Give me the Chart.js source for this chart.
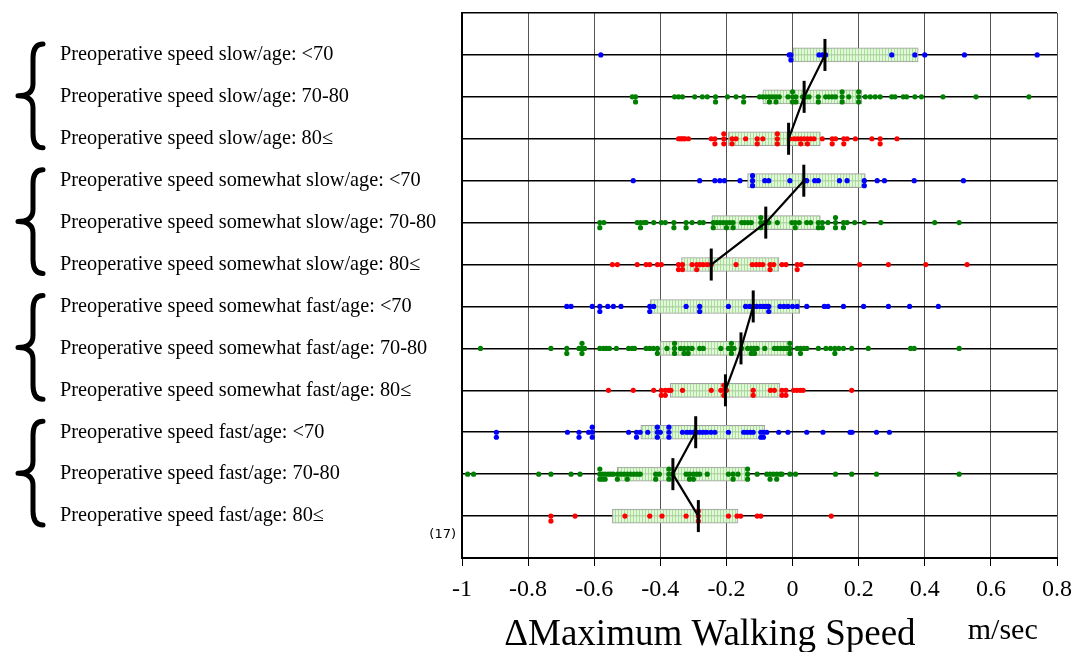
<!DOCTYPE html>
<html>
<head>
<meta charset="utf-8">
<script src="https://cdn.jsdelivr.net/npm/chart.js@4/dist/chart.umd.min.js"></script>
<style>
  body { margin: 0; background: #fff; }
  #wrap { position: relative; width: 1073px; height: 652px; }
</style>
</head>
<body>
<div id="wrap"><canvas id="walking"></canvas></div>
<script>
const rowLabels = [
  'Preoperative speed slow/age: <70',
  'Preoperative speed slow/age: 70-80',
  'Preoperative speed slow/age: 80≤',
  'Preoperative speed somewhat slow/age: <70',
  'Preoperative speed somewhat slow/age: 70-80',
  'Preoperative speed somewhat slow/age: 80≤',
  'Preoperative speed somewhat fast/age: <70',
  'Preoperative speed somewhat fast/age: 70-80',
  'Preoperative speed somewhat fast/age: 80≤',
  'Preoperative speed fast/age: <70',
  'Preoperative speed fast/age: 70-80',
  'Preoperative speed fast/age: 80≤'
];

// individual patients, change in max walking speed (m/sec); repeated values are stacked
const slowU70 = [-0.58, -0.01, -0.005, -0.005, 0.08, 0.09, 0.10, 0.30, 0.37, 0.40, 0.52, 0.74];
const slow7080 = [-0.485, -0.475, -0.475, -0.357, -0.345, -0.333, -0.296, -0.273, -0.258, -0.233, -0.233, -0.197, -0.171, -0.148, -0.148,
  -0.1, -0.09, -0.08, -0.07, -0.06, -0.05, -0.04, -0.05, -0.07, -0.014, 0, 0, 0, 0.01, 0.01, 0.03, 0.04, 0.05, 0.078, 0.078,
  0.1, 0.11, 0.12, 0.13, 0.15, 0.15, 0.15, 0.17, 0.2, 0.2, 0.2, 0.22, 0.235, 0.25, 0.265, 0.3, 0.31, 0.335, 0.345, 0.37, 0.39, 0.455, 0.555, 0.715];
const slowO80 = [-0.345, -0.335, -0.325, -0.315, -0.34, -0.33, -0.246, -0.235, -0.235, -0.208, -0.208, -0.208, -0.183, -0.171, -0.183,
  -0.142, -0.107, -0.107, -0.09, -0.046, -0.046, -0.046, -0.008, 0.005, 0.015, 0.025, 0.035, 0.045, 0.055, 0.065, 0.025, 0.045,
  0.09, 0.12, 0.13, 0.12, 0.155, 0.165, 0.155, 0.19, 0.24, 0.265, 0.265, 0.316];
const swSlowU70 = [-0.482, -0.281, -0.235, -0.22, -0.206, -0.159, -0.121, -0.121, -0.121, -0.084, -0.072, -0.008, 0.038, 0.043, 0.067, 0.078,
  0.142, 0.165, 0.217, 0.217, 0.256, 0.278, 0.368, 0.517];
const swSlow7080 = [-0.583, -0.571, -0.583, -0.47, -0.46, -0.45, -0.443, -0.46, -0.42, -0.397, -0.385, -0.359, -0.359, -0.322, -0.304, -0.322,
  -0.281, -0.27, -0.24, -0.23, -0.22, -0.21, -0.2, -0.19, -0.18, -0.24, -0.2, -0.18, -0.154, -0.145, -0.135, -0.125, -0.096, -0.096, -0.096,
  -0.084, -0.072, -0.046, -0.002, 0.008, 0.02, 0.008, 0.043, 0.055, 0.078, 0.078, 0.09, 0.09, 0.107, 0.13, 0.13, 0.13, 0.154, 0.154,
  0.165, 0.188, 0.217, 0.267, 0.43, 0.504];
const swSlowO80 = [-0.545, -0.53, -0.47, -0.443, -0.432, -0.409, -0.397, -0.345, -0.333, -0.345, -0.333, -0.304, -0.29, -0.28, -0.27, -0.258,
  -0.29, -0.246, -0.171, -0.122, -0.11, -0.1, -0.09, -0.068, -0.057, -0.068, -0.032, -0.02, 0.014, 0.026, 0.014, 0.203, 0.29, 0.403, 0.528];
const swFastU70 = [-0.683, -0.67, -0.606, -0.583, -0.583, -0.559, -0.542, -0.519, -0.432, -0.42, -0.432, -0.322, -0.281, -0.281, -0.194,
  -0.142, -0.13, -0.119, -0.108, -0.097, -0.087, -0.078, -0.072, -0.072, -0.038, -0.026, -0.014, 0, 0.014, 0.043, 0.096, 0.107, 0.154,
  0.215, 0.29, 0.354, 0.441];
const swFast7080 = [-0.944, -0.731, -0.683, -0.683, -0.646, -0.629, -0.637, -0.637, -0.637, -0.583, -0.572, -0.563, -0.554, -0.533, -0.496,
  -0.485, -0.478, -0.443, -0.432, -0.421, -0.409, -0.409, -0.38, -0.357, -0.357, -0.357, -0.339, -0.328, -0.316, -0.304, -0.328, -0.316,
  -0.281, -0.27, -0.217, -0.194, -0.185, -0.177, -0.185, -0.185, -0.154, -0.136, -0.125, -0.115, -0.107, -0.125, -0.115, -0.084, -0.055,
  -0.045, -0.035, -0.025, -0.015, -0.008, -0.008, -0.008, 0.014, 0.024, 0.034, 0.043, 0.024, 0.078, 0.101, 0.115, 0.128, 0.14, 0.154,
  0.128, 0.179, 0.229, 0.357, 0.368, 0.504];
const swFastO80 = [-0.557, -0.482, -0.42, -0.397, -0.385, -0.375, -0.368, -0.397, -0.385, -0.333, -0.246, -0.217, -0.208, -0.2, -0.208, -0.208,
  -0.119, -0.119, -0.067, -0.055, -0.032, -0.02, -0.032, -0.02, 0.003, 0.013, 0.023, 0.032, 0.179];
const fastU70 = [-0.896, -0.896, -0.681, -0.646, -0.646, -0.617, -0.606, -0.606, -0.606, -0.496, -0.472, -0.461, -0.472, -0.438, -0.409,
  -0.409, -0.409, -0.4, -0.374, -0.374, -0.374, -0.333, -0.32, -0.31, -0.3, -0.29, -0.28, -0.27, -0.26, -0.247, -0.235, -0.194, -0.148,
  -0.138, -0.128, -0.119, -0.096, -0.088, -0.078, -0.096, -0.088, -0.042, -0.014, 0.043, 0.092, 0.174, 0.18, 0.254, 0.293];
const fast7080 = [-0.983, -0.965, -0.768, -0.731, -0.67, -0.643, -0.583, -0.575, -0.567, -0.558, -0.55, -0.542, -0.583, -0.575, -0.567,
  -0.583, -0.53, -0.52, -0.51, -0.5, -0.49, -0.48, -0.47, -0.461, -0.53, -0.5, -0.414, -0.403, -0.414, -0.374, -0.374, -0.374, -0.362,
  -0.322, -0.312, -0.3, -0.29, -0.281, -0.312, -0.3, -0.258, -0.194, -0.18, -0.165, -0.18, -0.136, -0.136, -0.136, -0.107, -0.078,
  -0.068, -0.058, -0.048, -0.038, -0.068, -0.048, -0.032, -0.008, 0.009, 0.13, 0.179, 0.254, 0.504];
const fastO80 = [-0.731, -0.731, -0.658, -0.507, -0.432, -0.395, -0.322, -0.285, -0.285, -0.285, -0.194, -0.168, -0.157, -0.107, -0.096, 0.117];

// interquartile boxes and medians, one per row
const q1 = [0.0, -0.09, -0.194, -0.136, -0.244, -0.336, -0.43, -0.4, -0.37, -0.459, -0.53, -0.545];
const q3 = [0.38, 0.209, 0.084, 0.22, 0.084, -0.041, 0.022, -0.006, -0.038, -0.084, -0.134, -0.165];
const medians = [0.098, 0.035, -0.012, 0.034, -0.081, -0.246, -0.119, -0.156, -0.203, -0.293, -0.362, -0.285];

const rowValues = [slowU70, slow7080, slowO80, swSlowU70, swSlow7080, swSlowO80,
  swFastU70, swFast7080, swFastO80, fastU70, fast7080, fastO80];
const ageColors = ['#0000ff', '#008000', '#ff0000'];
const serif = '"Liberation Serif", "Times New Roman", serif';

function dotRow(values, row) {
  const seen = {};
  const offs = [0, 0.12, -0.12, 0.24, -0.24];
  return values.map(v => {
    const key = v.toFixed(3);
    const n = seen[key] = (seen[key] || 0) + 1;
    return { x: v, y: row + offs[(n - 1) % offs.length] };
  });
}

// light green hatched fill for the boxes
const pc = document.createElement('canvas');
pc.width = 3; pc.height = 4;
const pctx = pc.getContext('2d');
pctx.fillStyle = 'rgba(224,247,216,0.85)';
pctx.fillRect(0, 0, 3, 4);
pctx.fillStyle = 'rgba(150,222,130,0.8)';
pctx.fillRect(0, 0, 1, 4);
const hatch = pctx.createPattern(pc, 'repeat');

const datasets = [];
datasets.push({
  type: 'bar',
  indexAxis: 'y',
  data: rowLabels.map((_, i) => ({ x: [q1[i], q3[i]], y: i + 1 })),
  backgroundColor: hatch,
  borderColor: '#a0a0a0',
  borderWidth: 1,
  borderSkipped: false,
  barThickness: 14,
  order: 3
});
rowValues.forEach((vals, i) => {
  datasets.push({
    type: 'scatter',
    data: dotRow(vals, i + 1),
    backgroundColor: ageColors[i % 3],
    pointRadius: 2.6,
    pointBorderWidth: 0,
    order: 2
  });
});
for (let g = 0; g < 4; g++) {
  datasets.push({
    type: 'line',
    data: [0, 1, 2].map(j => ({ x: medians[g * 3 + j], y: g * 3 + j + 1 })),
    borderColor: '#000',
    borderWidth: 2.2,
    showLine: true,
    pointStyle: 'line',
    pointRotation: 90,
    pointRadius: 16,
    pointBorderWidth: 3,
    pointBorderColor: '#000',
    order: 1
  });
}

const decorPlugin = {
  id: 'decor',
  afterDraw(chart) {
    const { ctx, scales: { x, y }, chartArea } = chart;
    ctx.save();
    // braces for each preoperative speed group
    ctx.strokeStyle = '#000';
    ctx.lineWidth = 5;
    ctx.lineCap = 'round';
    ctx.lineJoin = 'round';
    for (let g = 0; g < 4; g++) {
      const top = y.getPixelForValue(g * 3 + 1) - 11;
      const bot = y.getPixelForValue(g * 3 + 3) + 9;
      const mid = (top + bot) / 2;
      const xs = 33, xt = 18, xe = 43;
      ctx.beginPath();
      ctx.moveTo(xe, top);
      ctx.quadraticCurveTo(xs, top, xs, top + 14);
      ctx.lineTo(xs, mid - 12);
      ctx.quadraticCurveTo(xs, mid, xt, mid);
      ctx.quadraticCurveTo(xs, mid, xs, mid + 12);
      ctx.lineTo(xs, bot - 14);
      ctx.quadraticCurveTo(xs, bot, xe, bot);
      ctx.stroke();
    }
    ctx.fillStyle = '#000';
    ctx.font = '13px "DejaVu Sans", sans-serif';
    ctx.textAlign = 'right';
    ctx.textBaseline = 'middle';
    ctx.fillText('(17)', chartArea.left - 6, y.getPixelForValue(12.45));

    ctx.textBaseline = 'alphabetic';
    ctx.textAlign = 'center';
    ctx.font = '37px ' + serif;
    ctx.fillText('\u0394Maximum Walking Speed', x.getPixelForValue(-0.25), 645);
    ctx.textAlign = 'left';
    ctx.font = '30px ' + serif;
    ctx.fillText('m/sec', x.getPixelForValue(0.53), 639);
    ctx.restore();
  }
};

new Chart('walking', {
  type: 'scatter',
  data: { datasets },
  options: {
    responsive: true,
    maintainAspectRatio: false,
    animation: false,
    layout: { autoPadding: false, padding: { left: 60, top: 13, right: 16, bottom: 0 } },
    plugins: { legend: { display: false }, tooltip: { enabled: false } },
    scales: {
      x: {
        type: 'linear',
        min: -1,
        max: 0.8,
        offset: false,
        ticks: {
          stepSize: 0.2,
          color: '#000',
          font: { family: serif, size: 24 },
          padding: 9,
          callback: v => String(Math.round(v * 10) / 10)
        },
        grid: { offset: false, color: '#555', lineWidth: 1, tickLength: 8, tickColor: '#000' },
        border: { color: '#000', width: 2 },
        afterFit: s => { s.height = 94; s.paddingLeft = 0; s.paddingRight = 0; }
      },
      y: {
        type: 'linear',
        min: 0,
        max: 13,
        reverse: true,
        offset: false,
        afterBuildTicks: s => { s.ticks = Array.from({ length: 14 }, (_, i) => ({ value: i })); },
        ticks: {
          autoSkip: false,
          crossAlign: 'far',
          color: '#000',
          font: { family: serif, size: 20.3 },
          padding: 0,
          callback: v => rowLabels[v - 1] || ''
        },
        grid: { offset: false, color: '#000', lineWidth: 1.5, drawTicks: false },
        border: { color: '#000', width: 2 },
        afterFit: s => { s.width = 402; s.paddingTop = 0; s.paddingBottom = 0; }
      }
    }
  },
  plugins: [decorPlugin]
});
</script>
</body>
</html>
